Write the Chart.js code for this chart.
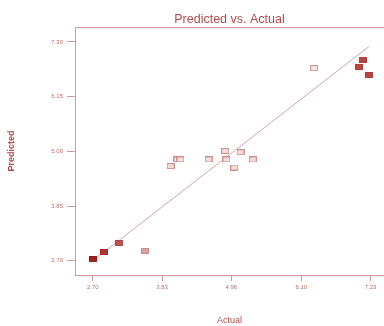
<!DOCTYPE html>
<html><head><meta charset="utf-8">
<script src="https://cdn.jsdelivr.net/npm/chart.js@4.4.1/dist/chart.umd.min.js"></script>
<style>html,body{margin:0;padding:0;background:#fff;}#wrap{width:384px;height:326px;}</style>
</head><body><div id="wrap"><canvas id="c" width="384" height="326"></canvas></div>
<script>
// Data
const actual    = [2.70, 2.88, 3.13, 3.55, 3.97, 4.08, 4.13, 4.59, 4.86, 4.88, 5.01, 5.11, 5.31, 6.31, 7.04, 7.10, 7.21];
const predicted = [2.73, 2.88, 3.07, 2.91, 4.69, 4.83, 4.83, 4.83, 5.01, 4.83, 4.66, 4.98, 4.83, 6.75, 6.78, 6.93, 6.60];
const xTicks = [2.70, 3.83, 4.96, 6.10, 7.23];
const yTicks = [2.70, 3.85, 5.00, 6.15, 7.30];
const fitLine = [2.70, 7.21];

// Marker styles (fill, stroke)
const markerStyles = [
  ['#a32222','#9a1c1c'], ['#ad3333','#a52a2a'], ['#bd5454','#b44848'], ['#dca4a4','#cc8a8a'],
  ['#f3dcdc','#cf9090'], ['#f3dcdc','#cf9090'], ['#f3dcdc','#cf9090'], ['#f3dcdc','#cf9090'],
  ['#f3dcdc','#cf9090'], ['#f3dcdc','#cf9090'], ['#f3dcdc','#cf9090'], ['#f3dcdc','#cf9090'],
  ['#f3dcdc','#cf9090'], ['#f5e4e4','#d09a9a'], ['#b84545','#b03c3c'], ['#b84545','#b03c3c'], ['#b84545','#b03c3c']
];
function makeMarker(fill, stroke){
  const c = document.createElement('canvas');
  c.width = 8; c.height = 6;
  const g = c.getContext('2d');
  g.fillStyle = fill; g.fillRect(0,0,8,6);
  g.strokeStyle = stroke; g.lineWidth = 1; g.strokeRect(0.5,0.5,7,5);
  return c;
}
const markers = markerStyles.map(s => makeMarker(s[0], s[1]));

const pts = actual.map((a,i)=>({x:a, y:predicted[i]}));
const linePts = fitLine.map(v=>({x:v,y:v}));

const axisColor = '#d39a9a';
const tickColor = '#b86a6a';

const framePlugin = {
  id:'frame',
  afterDraw(chart){
    const {ctx, chartArea:a} = chart;
    ctx.save();
    ctx.strokeStyle = axisColor; ctx.lineWidth = 1;
    ctx.beginPath();
    ctx.moveTo(Math.round(a.left), Math.round(a.top)+0.5);
    ctx.lineTo(chart.width, Math.round(a.top)+0.5);
    ctx.stroke();
    ctx.fillStyle = '#b44a4a';
    ctx.font = '12.5px "Liberation Sans", Arial, sans-serif';
    ctx.textAlign = 'center'; ctx.textBaseline = 'middle';
    ctx.fillText('Predicted vs. Actual', (a.left+a.right)/2, 20);
    ctx.restore();
  }
};

new Chart(document.getElementById('c'), {
  type:'scatter',
  data:{datasets:[
    {type:'line', data:linePts, borderColor:'#d7a4a4', borderWidth:1, pointRadius:0, fill:false, order:2},
    {data:pts, pointStyle:markers, pointRadius:4, backgroundColor:'#f3dcdc', borderColor:'#cf9090', order:1}
  ]},
  plugins:[framePlugin],
  options:{
    responsive:false, animation:false,
    layout:{autoPadding:false, padding:{top:27, right:0, left:0, bottom:0}},
    plugins:{legend:{display:false}, tooltip:{enabled:false}, title:{display:false}},
    scales:{
      x:{
        type:'linear', min:2.41, max:7.45,
        afterBuildTicks(s){ s.ticks = xTicks.map(v=>({value:v})); },
        afterFit(s){ s.height = 51; },
        ticks:{callback:(v)=>Number(v).toFixed(2), color:tickColor, font:{size:6, family:'"Liberation Sans", Arial'}, padding:3, maxRotation:0, autoSkip:false},
        grid:{drawOnChartArea:false, drawTicks:true, tickLength:6, color:axisColor},
        border:{color:axisColor},
        title:{display:true, text:'Actual', color:'#b44a4a', font:{size:9, family:'"Liberation Sans", Arial'}, padding:{top:0,bottom:0}}
      },
      y:{
        type:'linear', min:2.40, max:7.615,
        afterBuildTicks(s){ s.ticks = yTicks.map(v=>({value:v})); },
        afterFit(s){ s.width = 75; },
        ticks:{callback:(v)=>Number(v).toFixed(2), color:tickColor, font:{size:6, family:'"Liberation Sans", Arial'}, padding:4, autoSkip:false},
        grid:{drawOnChartArea:false, drawTicks:true, tickLength:8, color:axisColor},
        border:{color:axisColor},
        title:{display:true, text:'Predicted', color:'#b44a4a', font:{size:9, weight:'bold', family:'"Liberation Sans", Arial'}, padding:{top:6,bottom:0}}
      }
    }
  }
});
</script></body></html>
